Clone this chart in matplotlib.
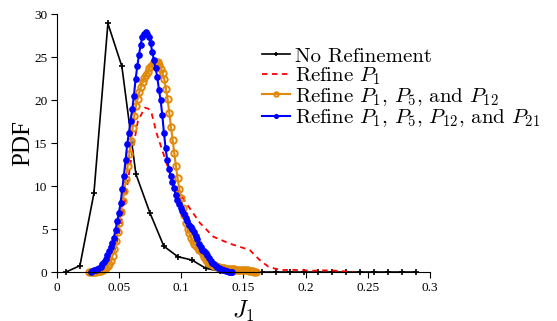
import matplotlib.pyplot as plt
import numpy as np

plt.rcParams['mathtext.fontset'] = 'cm'
plt.rcParams['font.family'] = ['Liberation Serif', 'DejaVu Serif']
plt.rcParams['axes.unicode_minus'] = False

# No refinement (coarse histogram-like PDF)
x_none = np.arange(26) * 0.01125 + 0.0072
y_none = [0, 0.73, 9.15, 28.9, 23.9, 11.4, 6.9, 3.0, 1.78, 1.4, 0.43, 0.1, 0.05,
          0, 0, 0, 0, 0, 0, 0, 0, 0, 0, 0, 0, 0]

# Refine P1
x_p1 = [0.030, 0.035, 0.040, 0.045, 0.050, 0.055, 0.060, 0.065, 0.0705, 0.0735,
        0.0762, 0.0802, 0.0855, 0.0936, 0.103, 0.115, 0.1258, 0.139, 0.155, 0.163,
        0.170, 0.1794, 0.190, 0.206, 0.218, 0.2277, 0.238]
y_p1 = [0, 0.1, 0.5, 1.8, 4.5, 8.5, 13.5, 17.5, 19.1, 19.0,
        18.4, 16.1, 13.8, 10.3, 8.2, 5.7, 4.1, 3.3, 2.56, 1.4,
        0.62, 0.23, 0.25, 0.15, 0.2, 0.12, 0]

# Refine P1, P5 and P12
x_p3 = np.linspace(0.026, 0.160, 101)
y_p3 = [0, 0.01, 0.01, 0.02, 0.04, 0.07, 0.1, 0.17, 0.24, 0.35,
        0.52, 0.7, 0.92, 1.3, 1.9, 2.7, 3.6, 4.6, 5.7, 7.0,
        8.2, 9.4, 10.8, 12.3, 13.7, 15.2, 16.7, 18.1, 19.3, 20.1,
        20.9, 21.5, 22.1, 22.6, 22.9, 23.3, 23.7, 24.0, 24.2, 24.4,
        24.45, 24.4, 24.1, 23.6, 23.1, 22.4, 21.3, 20.1, 18.5, 16.9,
        15.4, 13.8, 12.3, 10.9, 9.7, 8.6, 7.5, 6.6, 5.7, 5.0,
        4.5, 4.0, 3.6, 3.3, 3.0, 2.8, 2.6, 2.4, 2.1, 1.7,
        1.35, 1.1, 1.0, 0.9, 0.8, 0.7, 0.65, 0.6, 0.55, 0.5,
        0.45, 0.42, 0.4, 0.38, 0.36, 0.34, 0.32, 0.3, 0.29, 0.28,
        0.27, 0.26, 0.25, 0.24, 0.23, 0.2, 0.17, 0.13, 0.09, 0.05,
        0.02]

# Refine P1, P5, P12 and P2x
x_p4 = np.linspace(0.027, 0.141, 86)
y_p4 = [0, 0.15, 0.2, 0.25, 0.3, 0.45, 0.6, 0.9, 1.2, 1.55,
        1.95, 2.4, 2.9, 3.4, 4.0, 4.9, 5.9, 6.9, 8.0, 9.6,
        11.2, 13.0, 14.9, 16.2, 17.6, 18.9, 20.5, 22.4, 23.9, 25.2,
        26.4, 27.3, 27.7, 27.9, 27.7, 27.3, 26.6, 25.6, 24.6, 23.7,
        22.7, 21.2, 20.0, 18.3, 16.2, 14.4, 13.0, 12.0, 11.2, 10.5,
        9.8, 9.0, 8.4, 7.9, 7.5, 7.15, 6.8, 6.3, 5.9, 5.5,
        5.2, 5.0, 4.7, 4.2, 3.8, 3.3, 2.9, 2.6, 2.4, 2.25,
        2.0, 1.6, 1.3, 1.1, 0.9, 0.7, 0.55, 0.45, 0.35, 0.28,
        0.2, 0.14, 0.09, 0.05, 0.02, 0]

labels = ['No Refinement',
          'Refine $P_1$',
          'Refine $P_1$, $P_5$, and $P_{12}$',
          'Refine $P_1$, $P_5$, $P_{12}$, and $P_{21}$']

orange = '#E0890A'

fig = plt.figure(figsize=(5.57, 3.21), dpi=100)
ax = fig.add_axes([0.1023, 0.1526, 0.6697, 0.8037])

ax.plot(x_none, y_none, color='black', lw=1.2, marker='+', ms=5, mew=1.2,
        clip_on=False, label=labels[0])
ax.plot(x_p1, y_p1, color='red', lw=1.3, ls=(0, (3, 2.5)), clip_on=False,
        label=labels[1])
ax.plot(x_p3, y_p3, color=orange, lw=1.5, marker='o', ms=4.6, mfc='none',
        mec=orange, mew=1.4, clip_on=False, label=labels[2])
ax.plot(x_p4, y_p4, color='blue', lw=1.5, marker='o', ms=3.8, mfc='blue',
        mec='blue', clip_on=False, label=labels[3])

ax.set_xlim(0, 0.3)
ax.set_ylim(0, 30)
ax.set_xticks([0, 0.05, 0.1, 0.15, 0.2, 0.25, 0.3])
ax.set_xticklabels(['0', '0.05', '0.1', '0.15', '0.2', '0.25', '0.3'])
ax.set_yticks(range(0, 31, 5))
ax.tick_params(direction='out', length=4, width=0.8, labelsize=9.5, pad=3)
ax.spines['top'].set_visible(False)
ax.spines['right'].set_visible(False)
ax.spines['left'].set_linewidth(0.8)
ax.spines['bottom'].set_linewidth(0.8)

ax.set_xlabel(r'$J_1$', fontsize=17, labelpad=4)
ax.set_ylabel('PDF', fontsize=18, labelpad=0)

leg = fig.legend(loc='upper left', bbox_to_anchor=(262 / 557, 1 - 47 / 321),
                 bbox_transform=fig.transFigure, frameon=False,
                 prop={'family': 'cmr10', 'size': 15},
                 handlelength=1.33, handletextpad=0.27, labelspacing=-0.03,
                 borderaxespad=0, borderpad=0, markerscale=0.7)

fig.savefig('out.png', dpi=100)
